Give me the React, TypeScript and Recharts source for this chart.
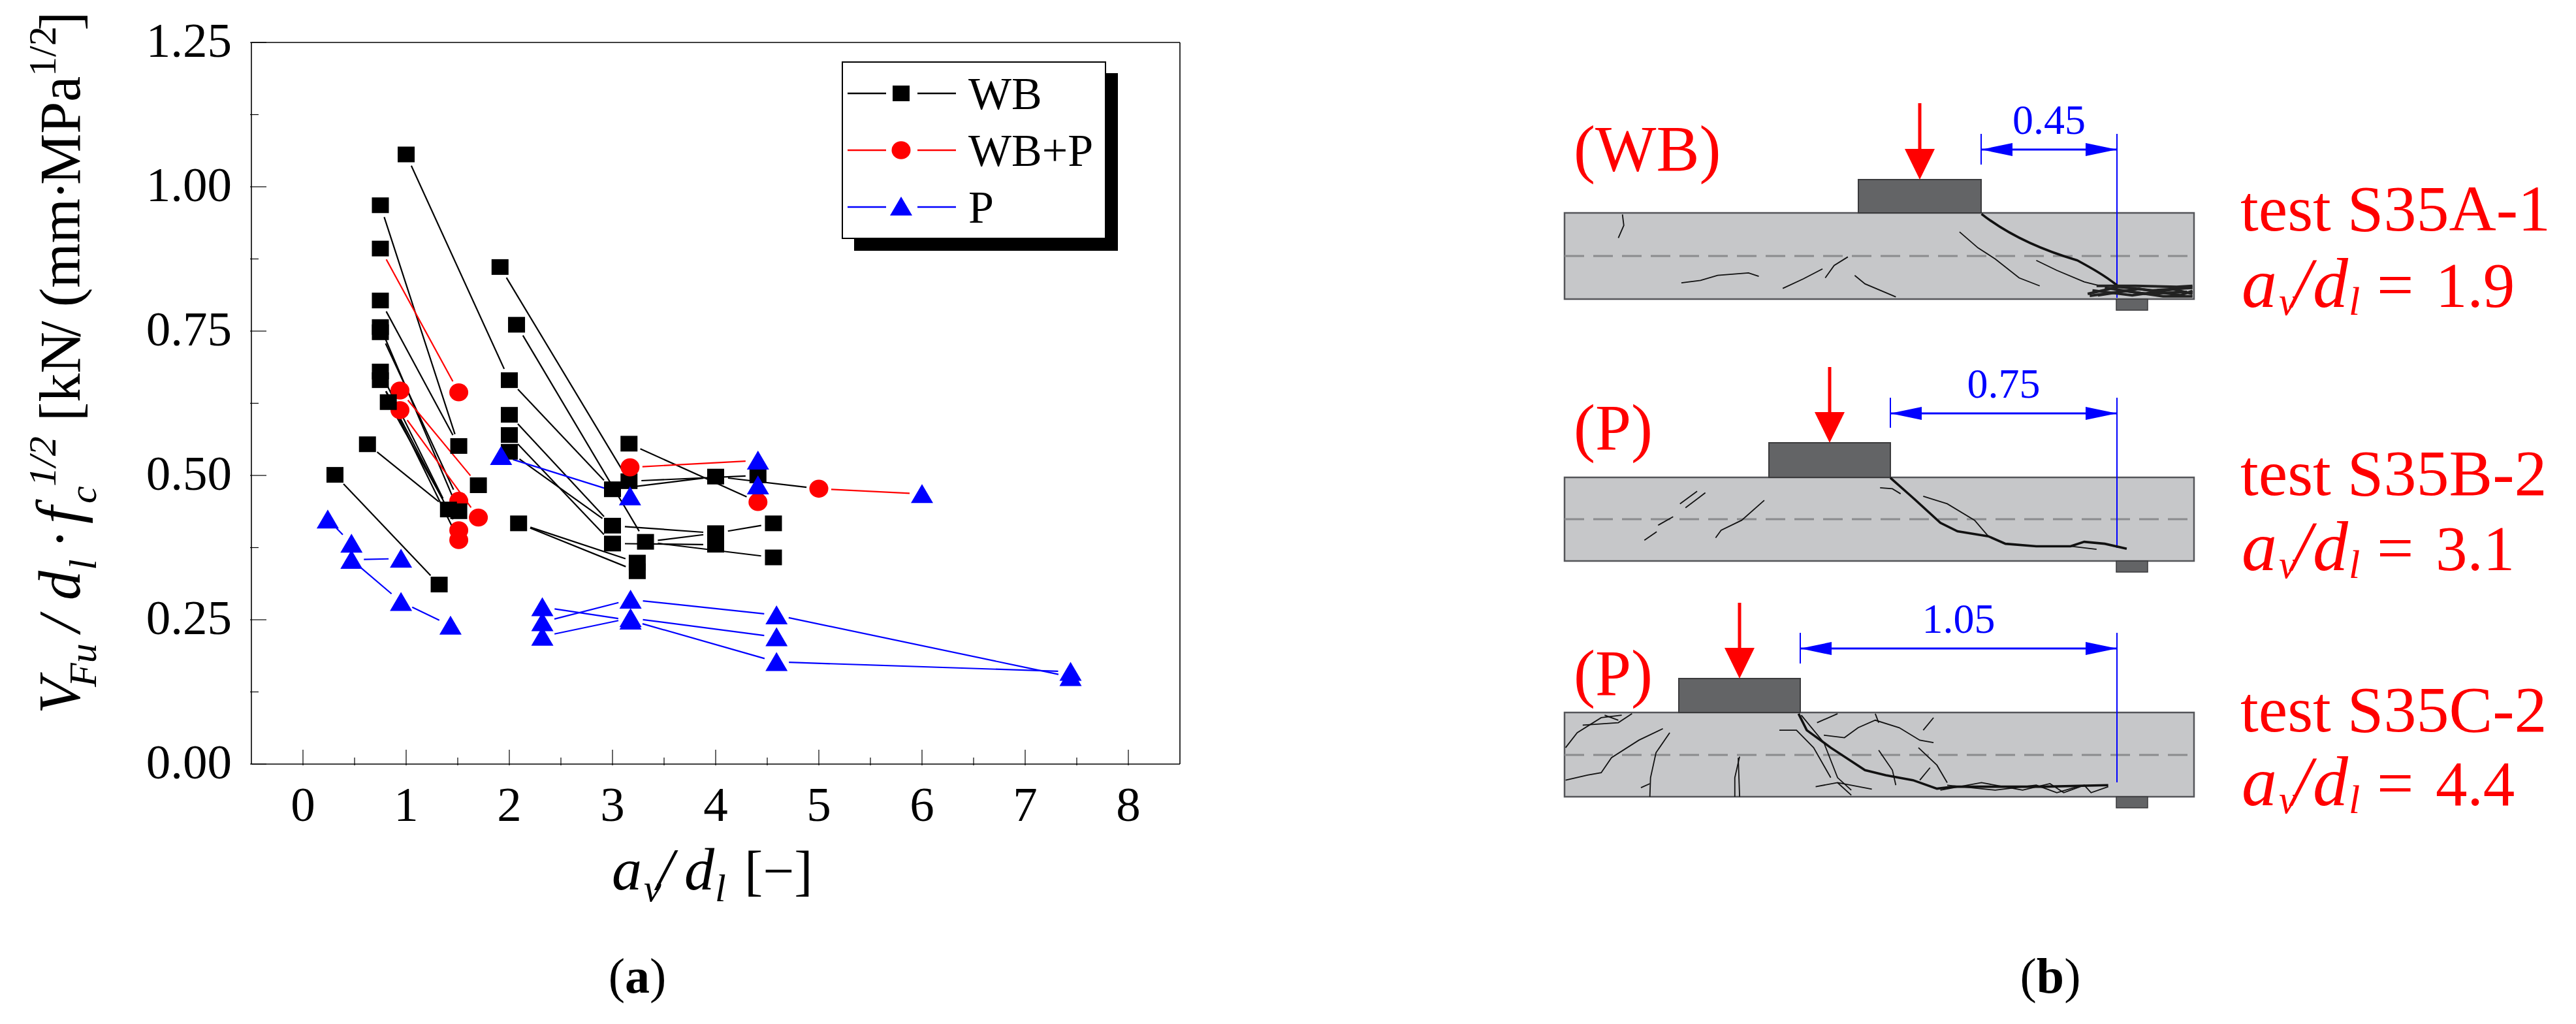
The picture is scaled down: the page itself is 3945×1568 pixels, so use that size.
import React from "react";
import { ScatterChart, Scatter, XAxis, YAxis, Legend } from "recharts";

const SERIF = "'Liberation Serif', 'Times New Roman', serif";
const BLACK = "#000000";
const RED = "#ff0000";
const BLUE = "#0000ff";

// axis ticks
const xMajorTicks = [0, 1, 2, 3, 4, 5, 6, 7, 8];
const xTicks = [0, 0.5, 1, 1.5, 2, 2.5, 3, 3.5, 4, 4.5, 5, 5.5, 6, 6.5, 7, 7.5, 8];
const yMajorTicks = [0, 0.25, 0.5, 0.75, 1, 1.25];
const yTicks = [0, 0.125, 0.25, 0.375, 0.5, 0.625, 0.75, 0.875, 1, 1.125, 1.25];

// markers as [av/dl, VFu]
const wbPoints = [
  [1.0, 1.056], [0.75, 0.968], [0.75, 0.893], [0.75, 0.803], [0.75, 0.757], [0.75, 0.748],
  [0.75, 0.68], [0.75, 0.665], [0.827, 0.627], [0.625, 0.554], [0.31, 0.501], [1.32, 0.311],
  [1.41, 0.441], [1.51, 0.438], [1.51, 0.551], [1.7, 0.483], [2.0, 0.665], [1.91, 0.861],
  [2.07, 0.761], [2.0, 0.605], [2.0, 0.57], [2.0, 0.541], [2.09, 0.417], [3.0, 0.476],
  [3.16, 0.555], [3.16, 0.49], [3.0, 0.413], [3.0, 0.382], [3.32, 0.385], [3.24, 0.349],
  [3.24, 0.334], [4.0, 0.498], [4.0, 0.4], [4.0, 0.38], [4.41, 0.5], [4.56, 0.417], [4.56, 0.358],
];
const redLowPoints = [
  [0.94, 0.647], [0.94, 0.613], [1.51, 0.644], [1.51, 0.456], [1.7, 0.427], [1.51, 0.405],
  [1.51, 0.388], [4.41, 0.454], [5.0, 0.477],
];
const redTopPoints = [[3.17, 0.514]];
const pPoints = [
  [0.24, 0.424], [0.47, 0.382], [0.47, 0.354], [0.95, 0.356], [0.95, 0.281], [1.43, 0.24],
  [1.92, 0.534], [3.17, 0.464], [2.32, 0.272], [2.32, 0.246], [2.32, 0.221], [3.175, 0.285],
  [3.175, 0.253], [3.175, 0.249], [4.41, 0.526], [4.41, 0.483], [6.0, 0.468], [4.59, 0.258],
  [4.59, 0.22], [4.59, 0.177], [7.44, 0.16], [7.44, 0.151],
];

// connected specimen pairs
const wbLinks = [
  [[1.0, 1.056], [2.0, 0.665]], [[0.75, 0.968], [1.51, 0.551]], [[0.75, 0.803], [1.51, 0.551]],
  [[0.75, 0.757], [1.51, 0.438]], [[0.75, 0.748], [1.51, 0.456]], [[0.75, 0.68], [1.41, 0.441]],
  [[0.75, 0.665], [1.51, 0.405]], [[0.75, 0.665], [1.51, 0.388]], [[0.827, 0.627], [1.41, 0.441]],
  [[0.625, 0.554], [1.41, 0.441]], [[0.31, 0.501], [1.32, 0.311]], [[1.91, 0.861], [3.16, 0.49]],
  [[2.07, 0.761], [3.32, 0.385]], [[2.0, 0.665], [3.0, 0.476]], [[2.0, 0.605], [3.0, 0.413]],
  [[2.0, 0.57], [3.0, 0.382]], [[2.0, 0.541], [3.0, 0.413]], [[2.09, 0.417], [3.24, 0.349]],
  [[2.09, 0.417], [3.24, 0.334]], [[3.16, 0.555], [4.41, 0.454]], [[3.16, 0.49], [4.41, 0.5]],
  [[3.0, 0.476], [4.0, 0.498]], [[4.0, 0.498], [5.0, 0.477]], [[3.0, 0.413], [4.0, 0.4]],
  [[3.32, 0.385], [4.0, 0.4]], [[4.0, 0.4], [4.56, 0.417]], [[3.0, 0.382], [4.0, 0.38]],
  [[3.32, 0.385], [4.56, 0.358]],
];
const redLinks = [
  [[0.75, 0.893], [1.51, 0.644]], [[0.94, 0.647], [1.7, 0.483]], [[0.94, 0.613], [1.7, 0.427]],
  [[3.17, 0.514], [4.41, 0.526]], [[5.0, 0.477], [6.0, 0.468]],
];
const pLinks = [
  [[0.24, 0.424], [0.47, 0.382]], [[0.47, 0.354], [0.95, 0.356]], [[0.47, 0.354], [0.95, 0.281]],
  [[0.95, 0.281], [1.43, 0.24]], [[1.92, 0.534], [3.17, 0.464]], [[2.32, 0.272], [3.175, 0.249]],
  [[2.32, 0.246], [3.175, 0.285]], [[2.32, 0.221], [3.175, 0.253]], [[3.175, 0.285], [4.59, 0.258]],
  [[3.175, 0.253], [4.59, 0.22]], [[3.175, 0.249], [4.59, 0.177]], [[4.59, 0.258], [7.44, 0.151]],
  [[4.59, 0.177], [7.44, 0.16]],
];

// panel (b): crack sketches, in a 1568x1568 working grid
const cracksThick = [
  "M700,232 C740,275 790,305 840,325 C860,340 880,355 898,375",
  "M567,760 L600,800 L640,850 L665,867 L710,877 L735,892 L780,897 L830,897 L850,888 L880,892 L912,902",
  "M433,1232 L445,1265 L480,1300 L530,1345 L560,1355 L600,1365 L635,1382 L660,1378 L720,1378 L790,1378 L885,1375",
];
const cracksThin = [
  "M176,233 L178,255 L170,280", "M262,370 L290,365 L315,355 L360,350 L375,357", "M410,381 L440,362 L468,342",
  "M472,360 L485,335 L505,318", "M515,355 L530,372 L575,398", "M668,268 L695,300 L720,322 L755,360 L785,376",
  "M780,325 L810,345 L850,368 L870,375",
  "M552,780 L570,782 L582,792", "M615,797 L650,812 L690,845 L710,877", "M260,812 L285,787", "M268,820 L297,790",
  "M228,855 L250,838", "M208,885 L226,868", "M312,880 L320,865 L350,845 L383,805", "M830,897 L868,903",
  "M437,1235 L470,1290 L490,1360 L510,1385", "M405,1265 L430,1265 L455,1300 L480,1360", "M460,1250 L490,1232",
  "M470,1275 L500,1280 L520,1260 L545,1245 L580,1260 L610,1285 L630,1290", "M545,1232 L550,1250",
  "M615,1265 L630,1240", "M608,1300 L635,1335 L650,1370", "M550,1305 L570,1345 L575,1375", "M610,1365 L625,1340",
  "M93,1300 L110,1270 L145,1240 L175,1235", "M118,1255 L170,1250 L190,1232", "M150,1235 L170,1245",
  "M93,1365 L125,1355 L145,1350 L160,1320 L200,1285 L235,1262", "M245,1270 L225,1310 L217,1360 L216,1398",
  "M203,1380 L216,1372", "M347,1318 L340,1360 L340,1398", "M345,1320 L347,1398",
  "M458,1378 L490,1370 L540,1383", "M490,1370 L510,1395",
  "M640,1385 L700,1370 L760,1385 L800,1372 L820,1390 L850,1375 L860,1390 L885,1378",
  "M650,1375 L720,1385 L780,1375 L810,1390 L840,1378",
];
const crushZone = [
  "M855,392 L900,378 L950,385 L1008,380", "M862,385 L920,395 L980,383 L1008,392",
  "M870,395 L930,382 L990,395 L1008,386", "M880,380 L940,392 L1000,388",
  "M858,396 L910,386 L965,397 L1008,397", "M868,376 L925,376 L985,378 L1008,376",
];
const beams = [
  { top: 326, bottom: 458, dash: 392, plateL: 2846, plateR: 3034, plateTop: 275, arrowTop: 158, dimY: 229, dimTop: 205, dimBottom: 252, endY: 456, dimLabel: "0.45", tag: "(WB)", tagY: 261, test: "test S35A-1", testY: 353, ratio: "1.9", ratioY: 470 },
  { top: 731, bottom: 859, dash: 795, plateL: 2709, plateR: 2895, plateTop: 678, arrowTop: 562, dimY: 633, dimTop: 609, dimBottom: 655, endY: 839, dimLabel: "0.75", tag: "(P)", tagY: 688, test: "test S35B-2", testY: 758, ratio: "3.1", ratioY: 873 },
  { top: 1091, bottom: 1220, dash: 1156, plateL: 2571, plateR: 2757, plateTop: 1039, arrowTop: 923, dimY: 993, dimTop: 969, dimBottom: 1016, endY: 1198, dimLabel: "1.05", tag: "(P)", tagY: 1064, test: "test S35C-2", testY: 1120, ratio: "4.4", ratioY: 1233 },
];

const toRows = (pts: number[][]) => pts.map(([x, y]) => ({ x, y }));

// Origin style "gap to symbol": the line stops short of both markers
const gappedLine = (gap: number) => (props: any) => {
  const [a, b] = props.points;
  const dx = b.x - a.x;
  const dy = b.y - a.y;
  const len = Math.hypot(dx, dy) || 1;
  const ux = (dx / len) * gap;
  const uy = (dy / len) * gap;
  return <line x1={a.x + ux} y1={a.y + uy} x2={b.x - ux} y2={b.y - uy} stroke={props.stroke} strokeWidth={2.2} />;
};

const SquareMark = ({ cx, cy }: any) => <rect x={cx - 13} y={cy - 12} width={26} height={24} fill={BLACK} />;
const CircleMark = ({ cx, cy }: any) => <ellipse cx={cx} cy={cy} rx={14.5} ry={13.8} fill={RED} />;
const TriangleMark = ({ cx, cy }: any) => (
  <polygon points={`${cx},${cy - 15} ${cx + 17},${cy + 14} ${cx - 17},${cy + 14}`} fill={BLUE} />
);
const NoMark = () => <g />;

const isIn = (list: number[], v: number) => list.some((t) => Math.abs(t - v) < 1e-6);

const BottomTick = ({ x, y, payload }: any) => {
  const major = isIn(xMajorTicks, payload.value);
  return (
    <g>
      <line x1={x} x2={x} y1={y} y2={y - (major ? 24 : 12)} stroke={BLACK} strokeWidth={1.2} />
      {major && (
        <text x={x} y={y + 85} textAnchor="middle" fontFamily={SERIF} fontSize={75} fill={BLACK}>
          {payload.value}
        </text>
      )}
    </g>
  );
};
const TopTick = ({ x, y, payload }: any) => (
  <line x1={x} x2={x} y1={y} y2={y + (isIn(xMajorTicks, payload.value) ? 24 : 12)} stroke={BLACK} strokeWidth={1.2} />
);
const LeftTick = ({ x, y, payload }: any) => {
  const major = isIn(yMajorTicks, payload.value);
  return (
    <g>
      <line x1={x} x2={x + (major ? 25 : 13)} y1={y} y2={y} stroke={BLACK} strokeWidth={1.2} />
      {major && (
        <text x={355} y={y + 22} textAnchor="end" fontFamily={SERIF} fontSize={75} fill={BLACK}>
          {payload.value.toFixed(2)}
        </text>
      )}
    </g>
  );
};
const RightTick = ({ x, y, payload }: any) => (
  <line x1={x} x2={x - (isIn(yMajorTicks, payload.value) ? 25 : 13)} y1={y} y2={y} stroke={BLACK} strokeWidth={1.2} />
);

// y title pieces: [start along the axis, baseline, text, size, italic]
const yTitleParts: [number, number, string, number, boolean][] = [
  [1093, 122, "V", 90, true],
  [1052, 147, "Fu", 60, true],
  [968, 122, "/", 90, true],
  [919, 122, "d", 90, true],
  [873, 147, "l", 60, true],
  [840, 122, "·", 90, false],
  [802, 122, "f", 96, true],
  [771, 147, "c", 60, true],
  [745, 85, "1/2", 60, true],
  [645, 122, "[kN", 88, false],
  [516, 122, "/", 88, false],
  [470, 122, "(mm", 88, false],
  [306, 122, "·", 88, false],
  [283, 122, "MPa", 88, false],
  [117, 85, "1/2", 60, false],
  [47, 122, "]", 88, false],
];

const YTitle = () => (
  <g>
    {yTitleParts.map(([along, base, str, size, italic], i) => (
      <text
        key={i}
        transform={`translate(${base} ${along}) rotate(-90)`}
        fontFamily={SERIF}
        fontSize={size}
        fontStyle={italic ? "italic" : "normal"}
        fill={BLACK}
      >
        {str}
      </text>
    ))}
  </g>
);

const XTitle = () => (
  <text x={937} y={1362} fontFamily={SERIF} fontSize={92} fill={BLACK} xmlSpace="preserve">
    <tspan fontStyle="italic">a</tspan>
    <tspan x={986} y={1380} fontStyle="italic" fontSize={60}>v</tspan>
    <tspan x={1006} y={1362} fontStyle="italic">/</tspan>
    <tspan x={1048} y={1362} fontStyle="italic">d</tspan>
    <tspan x={1095} y={1380} fontStyle="italic" fontSize={60}>l</tspan>
    <tspan x={1140} y={1362} fontSize={85}>[−]</tspan>
  </text>
);

const LegendBox = () => (
  <svg width={430} height={296} style={{ display: "block" }}>
    <rect x={20} y={19} width={404} height={272} fill={BLACK} />
    <rect x={2} y={2} width={403} height={270} fill="#ffffff" stroke={BLACK} strokeWidth={2} />
    {[
      { label: "WB", color: BLACK, y: 50 },
      { label: "WB+P", color: RED, y: 137 },
      { label: "P", color: BLUE, y: 224 },
    ].map((row) => (
      <g key={row.label}>
        <line x1={10} x2={69} y1={row.y} y2={row.y} stroke={row.color} strokeWidth={2.4} />
        <line x1={117} x2={176} y1={row.y} y2={row.y} stroke={row.color} strokeWidth={2.4} />
        {row.label === "WB" && <SquareMark cx={92} cy={row.y} />}
        {row.label === "WB+P" && <CircleMark cx={92} cy={row.y} />}
        {row.label === "P" && <TriangleMark cx={92} cy={row.y - 1} />}
        <text x={195} y={row.y + 24} fontFamily={SERIF} fontSize={70} fill={BLACK}>
          {row.label}
        </text>
      </g>
    ))}
  </svg>
);

const RatioText = ({ y, value }: { y: number; value: string }) => (
  <text x={3433} y={y} fontFamily={SERIF} fontSize={108} fill={RED}>
    <tspan fontStyle="italic">a</tspan>
    <tspan x={3490} y={y + 12} fontStyle="italic" fontSize={62}>v</tspan>
    <tspan x={3510} y={y} fontStyle="italic">/</tspan>
    <tspan x={3542} y={y} fontStyle="italic">d</tspan>
    <tspan x={3597} y={y + 12} fontStyle="italic" fontSize={62}>l</tspan>
    <tspan x={3640} y={y} fontSize={100}>=</tspan>
    <tspan x={3730} y={y} fontSize={97}>{value}</tspan>
  </text>
);

const PanelB = () => (
  <svg width={3945} height={1568} style={{ position: "absolute", left: 0, top: 0, pointerEvents: "none" }}>
    {beams.map((b) => {
      const arrowX = (b.plateL + b.plateR) / 2;
      return (
        <g key={b.test}>
          <rect x={2396} y={b.top} width={964} height={b.bottom - b.top} fill="#c6c7c9" stroke="#55565a" strokeWidth={2.5} />
          <line x1={2396} x2={3360} y1={b.dash} y2={b.dash} stroke="#8a8b8e" strokeWidth={3} strokeDasharray="30 14" />
          <rect x={b.plateL} y={b.plateTop} width={b.plateR - b.plateL} height={b.top - b.plateTop} fill="#636466" stroke="#3a3a3c" strokeWidth={2} />
          <rect x={3241} y={b.bottom} width={48} height={17} fill="#636466" stroke="#3a3a3c" strokeWidth={1.5} />
          <line x1={arrowX} x2={arrowX} y1={b.arrowTop} y2={b.plateTop - 40} stroke={RED} strokeWidth={5} />
          <polygon points={`${arrowX - 23},${b.plateTop - 47} ${arrowX + 23},${b.plateTop - 47} ${arrowX},${b.plateTop}`} fill={RED} />
          <line x1={3242} x2={3242} y1={b.dimTop} y2={b.endY} stroke={BLUE} strokeWidth={2} />
          <line x1={b.plateR} x2={b.plateR} y1={b.dimTop} y2={b.dimBottom} stroke={BLUE} strokeWidth={2} />
          <line x1={b.plateR} x2={3242} y1={b.dimY} y2={b.dimY} stroke={BLUE} strokeWidth={3} />
          <polygon points={`${b.plateR},${b.dimY} ${b.plateR + 48},${b.dimY - 10} ${b.plateR + 48},${b.dimY + 10}`} fill={BLUE} />
          <polygon points={`3242,${b.dimY} 3194,${b.dimY - 10} 3194,${b.dimY + 10}`} fill={BLUE} />
          <text x={(b.plateR + 3242) / 2} y={b.dimTop} textAnchor="middle" fontFamily={SERIF} fontSize={64} fill={BLUE}>
            {b.dimLabel}
          </text>
          <text x={2410} y={b.tagY} fontFamily={SERIF} fontSize={99} fill={RED}>
            {b.tag}
          </text>
          <text x={3431} y={b.testY} fontFamily={SERIF} fontSize={100} fill={RED}>
            {b.test}
          </text>
          <RatioText y={b.ratioY} value={b.ratio} />
        </g>
      );
    })}
    <g transform="translate(2300 150) scale(1.0493 0.7653)" fill="none" stroke="#111111">
      {cracksThin.map((d, i) => (
        <path key={i} d={d} strokeWidth={1.8} vectorEffect="non-scaling-stroke" />
      ))}
      {cracksThick.map((d, i) => (
        <path key={i} d={d} strokeWidth={3.6} vectorEffect="non-scaling-stroke" />
      ))}
      {crushZone.map((d, i) => (
        <path key={i} d={d} strokeWidth={4} stroke="#222222" vectorEffect="non-scaling-stroke" />
      ))}
    </g>
    <text x={976} y={1520} textAnchor="middle" fontFamily={SERIF} fontSize={76} fill={BLACK}>
      (<tspan fontWeight="bold">a</tspan>)
    </text>
    <text x={3140} y={1520} textAnchor="middle" fontFamily={SERIF} fontSize={76} fill={BLACK}>
      (<tspan fontWeight="bold">b</tspan>)
    </text>
  </svg>
);

const linkSeries = (links: number[][][], color: string, prefix: string) =>
  links.map((pair, i) => (
    <Scatter
      key={`${prefix}-${i}`}
      data={toRows(pair)}
      fill={color}
      line={gappedLine(19)}
      shape={NoMark}
      legendType="none"
      isAnimationActive={false}
    />
  ));

export default function App() {
  return (
    <div style={{ position: "absolute", left: 0, top: 0, width: 3945, height: 1568, background: "#ffffff" }}>
      <ScatterChart width={3945} height={1568} margin={{ left: 384, right: 2137, top: 64, bottom: 397 }}>
        <XAxis
          xAxisId={0}
          type="number"
          dataKey="x"
          domain={[-0.5, 8.5]}
          ticks={xTicks}
          interval={0}
          height={1}
          tickSize={0}
          tickLine={false}
          tick={BottomTick}
          stroke={BLACK}
          strokeWidth={1.6}
          allowDataOverflow
          label={{ content: XTitle }}
        />
        <XAxis
          xAxisId="top"
          orientation="top"
          type="number"
          domain={[-0.5, 8.5]}
          ticks={xTicks}
          interval={0}
          height={1}
          tickSize={0}
          tickLine={false}
          tick={TopTick}
          stroke={BLACK}
          strokeWidth={1.6}
        />
        <YAxis
          yAxisId={0}
          type="number"
          dataKey="y"
          domain={[0, 1.25]}
          ticks={yTicks}
          interval={0}
          width={1}
          tickSize={0}
          tickLine={false}
          tick={LeftTick}
          stroke={BLACK}
          strokeWidth={1.6}
          allowDataOverflow
          label={{ content: YTitle }}
        />
        <YAxis
          yAxisId="right"
          orientation="right"
          type="number"
          domain={[0, 1.25]}
          ticks={yTicks}
          interval={0}
          width={1}
          tickSize={0}
          tickLine={false}
          tick={RightTick}
          stroke={BLACK}
          strokeWidth={1.6}
        />
        {linkSeries(wbLinks, BLACK, "wb")}
        {linkSeries(redLinks, RED, "red")}
        {linkSeries(pLinks, BLUE, "p")}
        <Scatter name="WB+P" data={toRows(redLowPoints)} fill={RED} shape={CircleMark} isAnimationActive={false} />
        <Scatter name="WB" data={toRows(wbPoints)} fill={BLACK} shape={SquareMark} isAnimationActive={false} />
        <Scatter name="WB+P top" data={toRows(redTopPoints)} fill={RED} shape={CircleMark} isAnimationActive={false} />
        <Scatter name="P" data={toRows(pPoints)} fill={BLUE} shape={TriangleMark} isAnimationActive={false} />
        <Legend
          layout="vertical"
          align="center"
          verticalAlign="middle"
          content={LegendBox}
          wrapperStyle={{ left: 1288, top: 93, width: 430, height: 296 }}
        />
      </ScatterChart>
      <PanelB />
    </div>
  );
}
